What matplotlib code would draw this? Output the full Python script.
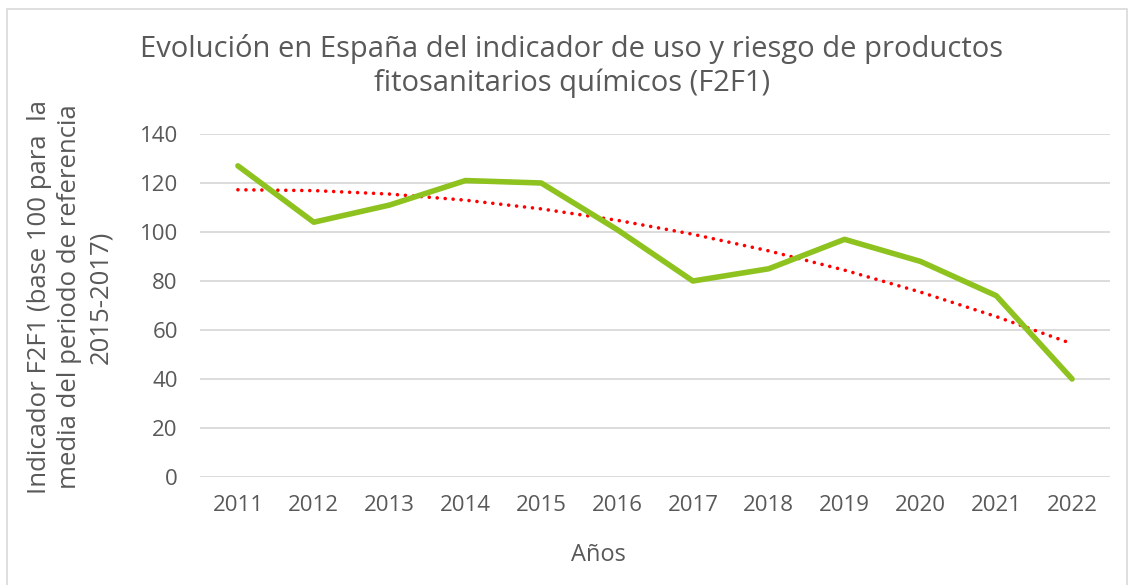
import numpy as np
import matplotlib
matplotlib.use("Agg")
import matplotlib.pyplot as plt
from matplotlib.patches import Rectangle

# data
years = ["2011", "2012", "2013", "2014", "2015", "2016",
         "2017", "2018", "2019", "2020", "2021", "2022"]
f2f1 = [127, 104, 111, 121, 120, 101, 80, 85, 97, 88, 74, 40]
y_ticks = [0, 20, 40, 60, 80, 100, 120, 140]

title = "Evolución en España del indicador de uso y riesgo de productos\nfitosanitarios químicos (F2F1)"
ylabel = "Indicador F2F1 (base 100 para  la\nmedia del periodo de referencia\n2015-2017)"
xlabel = "Años"

W, H = 1129, 585
text_col = "#595959"
green = "#8dc21f"
grid_col = "#d9d9d9"

plt.rcParams['font.family'] = ['Open Sans', 'DejaVu Sans']

fig = plt.figure(figsize=(W / 100, H / 100), dpi=100)
fig.patches.append(Rectangle((7 / W, -0.05), 1120 / W, 1.05 - 9 / H,
                             transform=fig.transFigure, fill=False,
                             edgecolor="#d9d9d9", linewidth=1.2))

ax = fig.add_axes([200 / W, (H - 477) / H, 910 / W, 343 / H])
x = np.arange(len(years))

# polynomial (order 2) trend line, as in the spreadsheet
coef = np.polyfit(x, f2f1, 2)
ax.plot(x, np.polyval(coef, x), color="#ff0000", linewidth=2.6,
        linestyle=(0, (0.01, 2.2)), dash_capstyle="round", zorder=3)
ax.plot(x, f2f1, color=green, linewidth=4.0, solid_joinstyle="round",
        solid_capstyle="round", zorder=4)

ax.set_xlim(-0.5, len(years) - 0.5)
ax.set_ylim(0, 140)
ax.set_xticks(x)
ax.set_xticklabels(years)
ax.set_yticks(y_ticks)
ax.grid(axis="y", color=grid_col, linewidth=1.3)
ax.set_axisbelow(True)
for s in ax.spines.values():
    s.set_visible(False)
ax.tick_params(axis="both", length=0, labelsize=16, labelcolor=text_col)
ax.tick_params(axis="x", pad=13)
ax.tick_params(axis="y", pad=16)

fig.text(572 / W, 1 - 66 / H, title, ha="center", va="center",
         fontsize=21, color=text_col, linespacing=1.2)
fig.text(70 / W, 1 - 297 / H, ylabel, ha="center", va="center",
         rotation=90, fontsize=18.5, color=text_col, linespacing=1.28,
         multialignment="center")
fig.text(598 / W, 1 - 555 / H, xlabel, ha="center", va="center",
         fontsize=17, color=text_col)

fig.savefig("out.png", dpi=100)
